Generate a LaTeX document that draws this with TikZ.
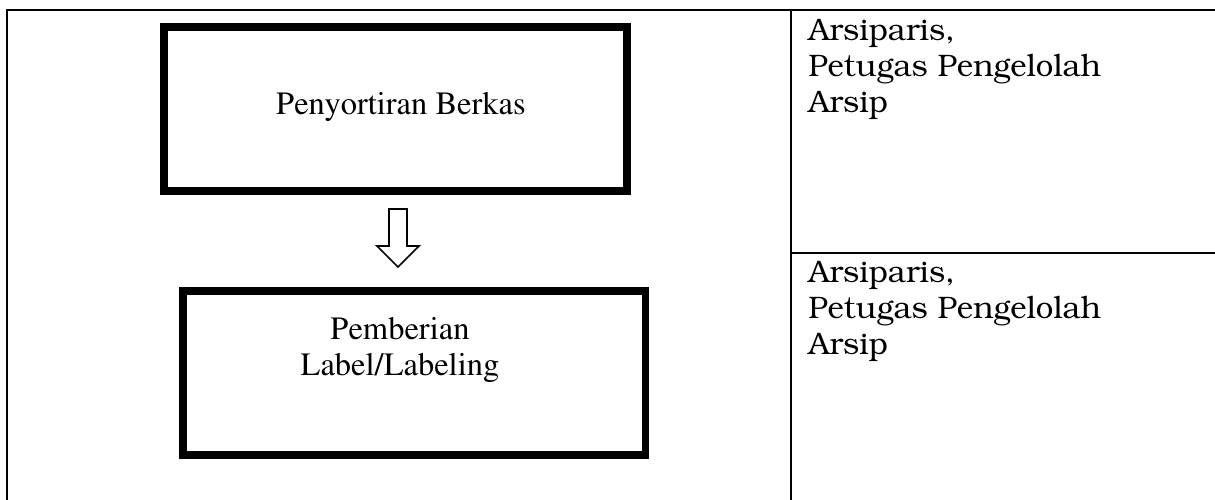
\documentclass[tikz,border=0pt]{standalone}
\usepackage[T1]{fontenc}
\usetikzlibrary{positioning,calc}

\newcommand{\timesfont}{\fontfamily{ptm}\fontsize{18.5}{21}\selectfont}
\newcommand{\bookfont}{\fontfamily{pbk}\fontsize{17.7}{20.5}\selectfont}

\tikzset{
  prosesbox/.style={draw, line width=4.5pt, minimum width=9.26cm, minimum height=3.28cm, inner sep=0pt},
  tabelline/.style={line width=1.1pt},
  keterangan/.style={anchor=base west, align=left, inner sep=0pt, font=\bookfont},
  panahblok/.style={line width=0.9pt, line join=miter}
}

\begin{document}
\begin{tikzpicture}[x=0.02cm, y=-0.02cm]
    \useasboundingbox (0,0) rectangle (1215,500);

    % Tabel
    \draw [tabelline] (7,500) -- (7,10) -- (1215,10);
    \draw [tabelline] (791,10) -- (791,500);
    \draw [tabelline] (791,253) -- (1215,253);

    % Proses
    \node [prosesbox] (sortir) at (395.5,109) {};
    \node [anchor=base, font=\timesfont] (sortirteks) at (401,115) {Penyortiran Berkas};

    \node [prosesbox] (label) at (414,373) {};
    \node [anchor=base, align=center, font=\timesfont] (labelteks) at (400,376) {Pemberian\\Label/Labeling};

    % Panah
    \coordinate (panah) at (398,209);
    \draw [panahblok] (panah) ++(-9,0) -- ++(18,0) -- ++(0,37) -- ++(12,0) -- ++(-21,21) -- ++(-21,-21) -- ++(12,0) -- cycle;

    % Pelaksana
    \node [keterangan] (pelaksana1) at (808,113) {Arsiparis,\\Petugas Pengelolah\\Arsip};
    \node [keterangan] (pelaksana2) at (808,355) {Arsiparis,\\Petugas Pengelolah\\Arsip};
\end{tikzpicture}
\end{document}
